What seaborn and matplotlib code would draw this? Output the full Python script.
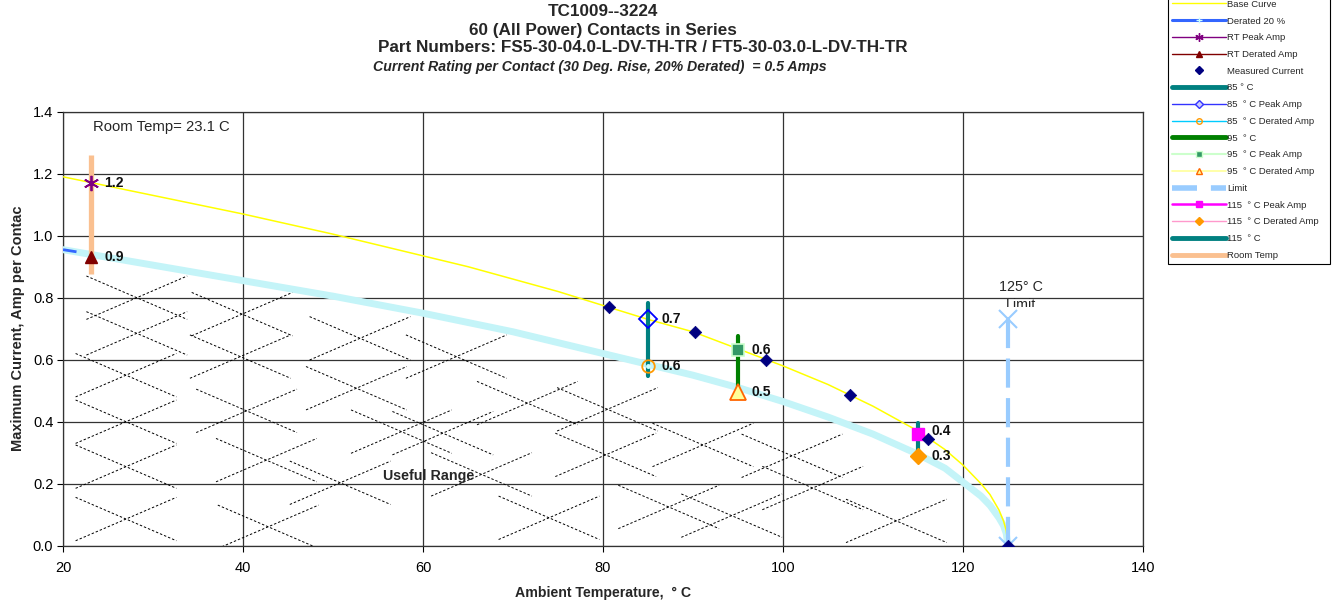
import numpy as np
import pandas as pd
import matplotlib
matplotlib.use("Agg")
import matplotlib.pyplot as plt
from matplotlib.lines import Line2D
from matplotlib.patches import Rectangle
import seaborn as sns

# ---------------- data ----------------
temp = [20, 30, 40, 50, 60, 65, 70, 75, 80, 85, 90, 95, 100, 105, 110, 115, 118, 120, 122, 123, 124, 124.5, 124.8, 125]
base_curve = [1.19, 1.13, 1.07, 1.005, 0.935, 0.90, 0.86, 0.82, 0.775, 0.73, 0.69, 0.635, 0.58, 0.52, 0.45, 0.37,
              0.31, 0.26, 0.20, 0.165, 0.115, 0.08, 0.05, 0.0]
derated = [0.955, 0.905, 0.855, 0.805, 0.75, 0.72, 0.69, 0.655, 0.62, 0.585, 0.55, 0.51, 0.465, 0.415, 0.36, 0.295,
           0.25, 0.205, 0.16, 0.13, 0.09, 0.065, 0.04, 0.0]

meas_temp = [80.7, 90.2, 98.1, 107.4, 116.1, 125.0]
meas_amp = [0.77, 0.69, 0.60, 0.485, 0.343, 0.0]

rt_temp = 23.1
rt_peak = 1.17
rt_derated = 0.93
rt_bar = [0.875, 1.26]

t85 = 85
peak85 = 0.73
derated85 = 0.58
bar85 = [0.547, 0.782]

t95 = 95
peak95 = 0.63
derated95 = 0.497
bar95 = [0.497, 0.676]

t115 = 115
peak115 = 0.36
derated115 = 0.288
bar115 = [0.288, 0.395]

limit_temp = 125
limit_amp = [0.0, 0.73]

# "Useful Range" dashed cross decoration: centres (temp, amp)
hatch_t = [28.2, 28.2, 27.0, 27.0, 27.0, 27.0,
           39.9, 39.7, 40.4, 42.6, 42.8,
           53.0, 52.6, 57.6, 50.8,
           63.7, 62.2, 66.5,
           71.6, 74.0,
           80.5, 80.3,
           91.1, 87.3, 94.3,
           101.0, 103.3, 112.6]
hatch_a = [0.80, 0.685, 0.55, 0.40, 0.255, 0.086,
           0.747, 0.61, 0.435, 0.276, 0.061,
           0.669, 0.508, 0.368, 0.203,
           0.61, 0.363, 0.23,
           0.46, 0.09,
           0.44, 0.293,
           0.325, 0.125, 0.097,
           0.29, 0.186, 0.08]

x_ticks = [20, 40, 60, 80, 100, 120, 140]
y_ticks = [0.0, 0.2, 0.4, 0.6, 0.8, 1.0, 1.2, 1.4]

# ---------------- style ----------------
sns.set_theme(style="white")
plt.rcParams["font.family"] = ["Liberation Sans", "DejaVu Sans"]

W, H = 1333, 603
fig = plt.figure(figsize=(W / 100, H / 100), dpi=100)
ax = fig.add_axes([63 / W, 1 - 545.7 / H, 1080 / W, 434 / H])

ax.set_xlim(20, 140)
ax.set_ylim(0, 1.4)
ax.set_xticks(x_ticks)
ax.set_yticks(y_ticks)
ax.set_yticklabels([f"{v:.1f}" for v in y_ticks])
ax.tick_params(axis="both", direction="out", length=4, width=0.8, labelsize=10.5,
               colors="black", bottom=True, left=True, pad=3)
ax.tick_params(axis="x", pad=7)
ax.grid(True, color="#333333", linewidth=0.9)
ax.set_axisbelow(True)
for s in ax.spines.values():
    s.set_color("#333333")
    s.set_linewidth(0.9)

# hatch crosses
hw, hh = 5.6, 0.07
for ct, ca in zip(hatch_t, hatch_a):
    ax.plot([ct - hw, ct + hw], [ca + hh, ca - hh], color="black", lw=0.7,
            linestyle=(0, (2.5, 2)), zorder=1)
    ax.plot([ct - hw, ct + hw], [ca - hh, ca + hh], color="black", lw=0.7,
            linestyle=(0, (2.5, 2)), zorder=1)

# curves
df = pd.DataFrame({"temp": temp, "base": base_curve, "derated": derated})
sns.lineplot(data=df, x="temp", y="derated", ax=ax, color="#3366FF", lw=2,
             sort=False, estimator=None, zorder=2)
sns.lineplot(data=df, x="temp", y="derated", ax=ax, color="#C4F4F8", lw=5,
             sort=False, estimator=None, zorder=3)
ax.plot([20, 21.5], [derated[0], derated[0] - 0.007], color="#3366FF", lw=2, zorder=3.5,
        solid_capstyle="butt")
sns.lineplot(data=df, x="temp", y="base", ax=ax, color="#FFFF00", lw=1.1,
             sort=False, estimator=None, zorder=3)

# room temp
ax.plot([rt_temp, rt_temp], rt_bar, color="#FAC090", lw=3.8, zorder=4, solid_capstyle="butt")
ax.plot([rt_temp], [rt_peak], marker=(6, 2, 0), color="#800080", ms=11, mew=1.3, zorder=5)
ax.plot([rt_temp], [rt_derated], marker="^", color="#800000", ms=9, zorder=5)

# 85 C
ax.plot([t85, t85], bar85, color="#008080", lw=3, zorder=4, solid_capstyle="round")
ax.plot([t85], [peak85], marker="D", mfc="none", mec="#0000FF", mew=1.3, ms=9, zorder=5)
ax.plot([t85], [derated85], marker="o", mfc="none", mec="#FF9900", mew=1.3, ms=9, zorder=5)
ax.plot([t85], [derated85], marker="o", color="#CCFFFF", ms=2.5, zorder=5)

# 95 C
ax.plot([t95, t95], bar95, color="#008000", lw=3, zorder=4, solid_capstyle="round")
ax.plot([t95], [peak95], marker="s", mfc="#339966", mec="#CCFFCC", mew=1.2, ms=9, zorder=5)
ax.plot([t95], [derated95], marker="^", mfc="#FFFF99", mec="#FF6600", mew=1.3, ms=11, zorder=5)

# 115 C
ax.plot([t115, t115], bar115, color="#008080", lw=3, zorder=4, solid_capstyle="round")
ax.plot([t115], [peak115], marker="s", color="#FF00FF", ms=8.5, zorder=5)
ax.plot([t115], [derated115], marker="D", color="#FF9900", ms=8, zorder=5)

# limit
ax.plot([limit_temp, limit_temp], limit_amp, color="#99CCFF", lw=3,
        linestyle=(0, (7, 2.5)), zorder=4)
ax.plot([limit_temp] * 2, limit_amp, lw=0, marker="x", color="#99CCFF", ms=13, mew=1.5, zorder=5)

# measured current
dm = pd.DataFrame({"temp": meas_temp, "amp": meas_amp})
sns.scatterplot(data=dm, x="temp", y="amp", ax=ax, marker="D", color="#000080", s=40,
                edgecolor="#000080", linewidth=0.5, zorder=6)

# value labels
def vlabel(t, v):
    ax.annotate(f"{v:.1f}", (t, v), xytext=(9.5, 0), textcoords="offset points",
                va="center", ha="left", fontsize=10, fontweight="bold", color="#111111", zorder=7)

vlabel(rt_temp, rt_peak)
vlabel(rt_temp, rt_derated)
vlabel(t85, peak85)
vlabel(t85, derated85)
vlabel(t95, peak95)
vlabel(t95, derated95)
vlabel(t115, peak115 + 0.01)
vlabel(t115, derated115)

ax.text(23.3, 1.35, "Room Temp= 23.1 C", fontsize=10.7, va="center", ha="left")
ax.text(55.6, 0.225, "Useful Range", fontsize=10.3, fontweight="bold", va="center", ha="left")
ax.text(126.4, 0.834, "125° C", fontsize=10.3, va="center", ha="center")
lim_txt = ax.text(126.4, 0.777, "Limit", fontsize=10.3, va="center", ha="center")
lim_txt.set_clip_on(True)
lim_txt.set_clip_path(Rectangle((115, 0.769), 20, 0.1, transform=ax.transData))

ax.set_xlabel("")
ax.set_ylabel("")
fig.text(603 / W, 1 - 593 / H, "Ambient Temperature,  ° C", fontsize=10.2, fontweight="bold",
         ha="center", va="center")
fig.text(18 / W, 1 - 328 / H, "Maximum Current, Amp per Contac", fontsize=10.5, fontweight="bold",
         ha="center", va="center", rotation=90)

# titles
fig.text(603 / W, 1 - 12 / H, "TC1009--3224", fontsize=12.3, fontweight="bold", ha="center", va="center")
fig.text(603 / W, 1 - 30 / H, "60 (All Power) Contacts in Series", fontsize=12.3, fontweight="bold",
         ha="center", va="center")
fig.text(642.5 / W, 1 - 48 / H, "Part Numbers: FS5-30-04.0-L-DV-TH-TR / FT5-30-03.0-L-DV-TH-TR",
         fontsize=12.3, fontweight="bold", ha="center", va="center")
fig.text(600 / W, 1 - 67 / H, "Current Rating per Contact (30 Deg. Rise, 20% Derated)  = 0.5 Amps",
         fontsize=10.2, fontweight="bold", style="italic", ha="center", va="center")

# legend
handles = [
    Line2D([], [], color="#FFFF00", lw=1),
    Line2D([], [], color="#3366FF", lw=2.2, marker="+", mec="#CCFFFF", ms=5),
    Line2D([], [], color="#800080", lw=1, marker=(6, 2, 0), ms=6),
    Line2D([], [], color="#800000", lw=1, marker="^", ms=5),
    Line2D([], [], color="#000080", lw=0, marker="D", ms=4),
    Line2D([], [], color="#008080", lw=3.5),
    Line2D([], [], color="#3333FF", lw=1, marker="D", mfc="#CCCCFF", ms=4),
    Line2D([], [], color="#00CCFF", lw=1, marker="o", mfc="none", mec="#FF9900", ms=4),
    Line2D([], [], color="#008000", lw=3.5),
    Line2D([], [], color="#CCFFCC", lw=1.5, marker="s", mfc="#339966", mec="#CCFFCC", ms=4),
    Line2D([], [], color="#FFFF99", lw=1.2, marker="^", mfc="#FFFF99", mec="#FF6600", ms=5),
    Line2D([], [], color="#99CCFF", lw=4, linestyle=(0, (4.5, 2.5))),
    Line2D([], [], color="#FF00FF", lw=1.8, marker="s", ms=5),
    Line2D([], [], color="#FF99CC", lw=1, marker="D", mfc="#FF9900", mec="#FF9900", ms=4),
    Line2D([], [], color="#008080", lw=3.5),
    Line2D([], [], color="#FAC090", lw=3.5),
]
labels = ["Base Curve", "Derated 20 %", "RT Peak Amp", "RT Derated Amp", "Measured Current",
          "85 ° C", "85  ° C Peak Amp", "85  ° C Derated Amp", "95  ° C", "95  ° C Peak Amp",
          "95  ° C Derated Amp", "Limit", "115  ° C Peak Amp", "115  ° C Derated Amp   ",
          "115  ° C", "Room Temp"]
leg = fig.legend(handles, labels, loc="upper left", bbox_to_anchor=(1168 / W, 1 + 4 / H),
                 frameon=True, fancybox=False, edgecolor="black", fontsize=6.8,
                 handlelength=5.75, handletextpad=0.1, labelspacing=0.82, borderpad=0.4,
                 borderaxespad=0, framealpha=1)
leg.get_frame().set_linewidth(0.8)

fig.savefig("out.png", dpi=100)
